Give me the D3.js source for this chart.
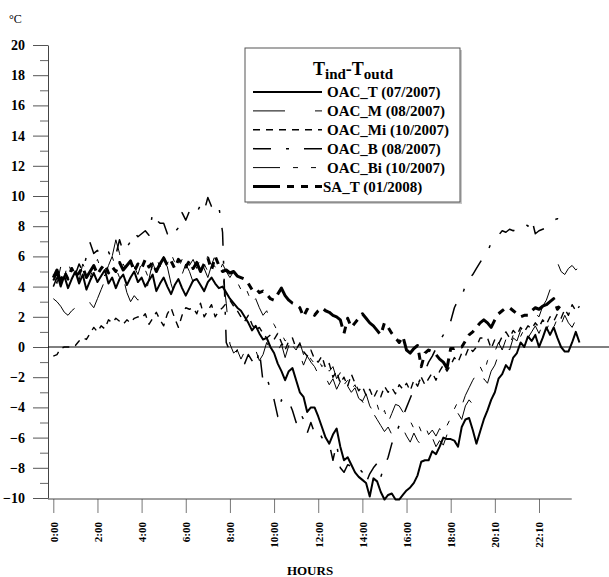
<!DOCTYPE html>
<html>
<head>
<meta charset="utf-8">
<script src="https://cdn.jsdelivr.net/npm/d3@7"></script>
<style>
  body { margin: 0; background: #fff; }
  svg { display: block; }
  text { font-family: "Liberation Serif", "Times New Roman", Times, serif; }
</style>
</head>
<body>
<svg id="chart" width="609" height="577"></svg>
<script>
// Indoor minus outdoor temperature (°C), one reading every 10 minutes over a day.
const tickLabels = ["0:00", "2:00", "4:00", "6:00", "8:00", "10:00", "12:00", "14:00", "16:00", "18:00", "20:10", "22:10"];
const tickSteps = [0, 12, 24, 36, 48, 60, 72, 84, 96, 108, 120, 132];
const yTicks = [-10, -8, -6, -4, -2, 0, 2, 4, 6, 8, 10, 12, 14, 16, 18, 20];

const seriesNames = ["OAC_T (07/2007)", "OAC_M (08/2007)", "OAC_Mi (10/2007)", "OAC_B (08/2007)", "OAC_Bi (10/2007)", "SA_T (01/2008)"];

const oacT = [
  4.4, 4.9, 4.0, 4.7, 3.9, 4.5, 5.0, 4.2, 4.8, 3.8, 4.4, 4.9,
  4.3, 4.7, 5.1, 4.2, 4.6, 3.9, 4.5, 4.8, 4.1, 4.6, 5.0, 4.3,
  4.6, 4.0, 4.4, 4.8, 3.7, 4.2, 4.6, 4.0, 3.5, 4.1, 4.5, 3.9,
  3.4, 3.9, 4.4, 4.5, 4.1, 3.7, 4.3, 4.6, 4.2, 3.9, 4.0, 3.6,
  3.2, 2.9, 2.6, 2.4, 2.0, 1.6, 1.1, 1.4, 0.9, 0.5, 0.6, 0.0,
  -0.4, -1.1, -1.6, -2.2, -1.6, -1.4, -2.2, -3.0, -3.3, -4.3, -4.0, -4.0,
  -4.6, -5.3, -6.0, -6.4, -5.8, -5.4, -6.6, -7.5, -7.3, -7.8, -8.3, -8.6,
  -8.8, -9.0, -9.9, -8.7, -8.9, -9.6, -10.1, -9.8, -9.7, -10.1, -10.1, -9.8,
  -9.5, -9.3, -9.0, -8.5, -7.6, -7.5, -7.5, -6.9, -7.1, -6.6, -6.0, -6.1,
  -6.1, -6.2, -6.6, -5.3, -4.8, -4.7, -5.5, -6.4, -5.6, -4.8, -4.2, -3.5,
  -3.0, -2.1, -1.8, -1.2, -1.5, -0.7, -0.4, 0.3, 0.0, 0.7, 0.4, 0.8,
  0.0, 0.6, 1.3, 0.8, 1.3, 0.6, 0.0, -0.3, -0.3, 0.3, 1.0, 0.3
];

const oacM = [
  3.2, 3.0, 2.7, 2.3, 2.1, 2.4, 2.6, 2.9, 3.3, 3.6, 2.9, 2.6,
  3.2, 3.8, 4.4, 5.2, 6.0, 7.1, 6.2, 4.6, 3.6, 3.0, 3.4, 3.1,
  3.8, 3.3, 4.5, 5.6, 4.9, 6.2, 5.8, 5.3, 4.2, 3.4, 4.0, 4.8,
  5.5, 5.0, 4.3, 5.1, 5.8, 5.2, 4.6, 5.4, 6.1, 5.5, 5.0, 2.9,
  0.2, -0.4, -0.2, -0.8, -0.3, -1.0, -0.6, -0.2, -0.9, -0.5, 0.3, -0.2,
  0.4, -0.3, 0.2, -0.7, 0.1, -0.4, -0.9, -0.5, -1.2, -0.6, -1.0, -1.3,
  -1.8, -1.2, -2.0, -2.5, -2.1, -2.8, -2.3, -1.4, -2.6, -3.0, -2.7, -3.4,
  -3.6, -4.0, -3.5, -4.4, -4.8, -5.2, -5.6, -5.3, -5.8, -5.5, -6.0, -5.4,
  -5.9, -6.3, -5.7, -6.2, -6.5, -5.9, -6.4, -6.0, -6.6, -6.2, -6.5, -5.8,
  -5.3, -5.5, -4.4, -4.8, -3.9, -3.5, -3.8, -2.9, -2.6, -2.1, -2.4, -1.6,
  -1.2, -0.5, -0.8, 0.1, -0.2, 0.6, 0.4, 1.1, 1.5, 1.2, 1.9, 2.2,
  2.0, 2.7, 3.1, 3.8, 4.6, 5.6, 5.0, 4.8, 5.2, 5.4, 5.1, 5.3
];

const oacMi = [
  -0.6, -0.5, -0.1, 0.0, 0.0, 0.0, 0.1, 0.4, 0.6, 0.5, 0.9, 1.3,
  1.0, 1.4, 1.2, 1.8, 1.6, 1.9, 1.7, 1.5, 1.8, 1.6, 1.9, 2.0,
  1.9, 2.2, 1.5, 1.9, 2.3, 1.8, 1.4, 2.2, 2.6, 1.9, 1.3, 2.1,
  2.6, 2.5, 2.6, 2.2, 2.9, 2.0, 2.4, 2.8, 2.0, 2.4, 2.6, 2.9,
  3.1, 2.7, 2.4, 2.0, 1.7, 2.1, 1.5, 1.1, 1.3, 0.9, 0.6, 0.8,
  0.5, 0.9, 0.3, -0.2, 0.4, 0.6, -0.1, 0.2, -0.3, -0.6, -0.2, -0.8,
  -1.0, -0.6, -1.4, -1.1, -2.0, -1.6, -2.4, -2.0, -2.6, -1.8, -2.4, -2.9,
  -2.6, -3.2, -2.8, -3.4, -2.9, -3.3, -2.6, -3.0, -2.7, -3.1, -2.5, -2.8,
  -2.4, -2.9, -2.2, -2.6, -2.0, -2.5, -2.1, -1.7, -2.2, -1.6, -1.2, -1.6,
  -1.2, -0.7, -1.0, -0.4, -0.6, 0.0, -0.3, 0.0, 0.6, 0.6, 0.6, -0.1,
  0.5, 0.2, 0.7, 1.0, 0.6, 1.1, 0.8, 1.3, 1.0, 1.4, 1.2, 1.6,
  1.3, 1.8, 1.5, 2.0, 1.7, 2.2, 1.9, 2.5, 2.1, 2.8, 2.4, 2.7
];

const oacB = [
  4.0, 4.6, 4.3, 5.0, 4.5, 5.2, 4.8, 5.5, 5.0, 6.0, 6.9, 6.2,
  6.4, 6.0, 6.3, 6.3, 5.8, 6.1, 7.1, 6.3, 6.6, 7.0, 7.6, 7.3,
  7.5, 7.7, 7.4, 8.9, 8.4, 8.2, 8.2, 7.5, 7.9, 7.6, 7.9, 8.9,
  8.4, 9.0, 9.2, 8.9, 9.4, 9.0, 9.9, 9.3, 9.0, 9.3, 7.6, 0.3,
  -0.3, -0.6, -0.2, -0.4, -1.1, -0.5, -0.9, -1.3, -0.2, -2.3, -2.0, -2.8,
  -3.5, -4.6, -3.5, -3.8, -3.6, -4.2, -5.0, -4.3, -4.8, -5.7, -5.0, -5.7,
  -5.5, -6.0, -6.2, -6.4, -7.5, -6.4, -8.0, -8.3, -7.8, -7.9, -8.2, -8.0,
  -8.3, -9.0, -8.4, -8.0, -7.7, -8.6, -7.9, -7.3, -6.4, -5.8, -5.2, -4.6,
  -4.0, -3.4, -2.8, -2.5, -2.0, -1.6, -1.0, -0.6, -0.1, 0.4, 0.8, 1.3,
  1.7, 2.6, 3.1, 3.3, 4.1, 4.5, 4.8, 5.2, 5.6, 6.0, 6.3, 6.9,
  7.1, 7.4, 7.7, 7.6, 7.8, 7.7, 7.8, 8.0, 8.2, 8.0, 8.5, 7.5,
  7.7, 7.8, 7.9, 8.1, 8.4, 8.5, 8.4, 8.3, 8.3, 8.3
];

const oacBi = [
  4.8, 4.2, 5.3, 4.6, 5.6, 4.9, 5.2, 4.4, 5.5, 5.0, 4.6, 5.3,
  5.8, 5.1, 4.7, 5.4, 6.0, 5.2, 4.6, 5.5, 5.0, 5.7, 5.3, 4.8,
  5.6, 5.1, 4.5, 5.4, 5.9, 5.3, 6.0, 5.5, 6.2, 5.6, 5.2, 5.8,
  6.1, 5.4, 5.8, 5.2, 5.9, 5.5, 5.0, 5.6, 5.3, 4.9, 5.5, 5.0,
  4.6, 5.0, 4.3, 3.8, 4.1, 3.5, 2.9, 3.2, 2.6, 2.1, 2.4, 1.7,
  1.5, 1.0, 0.9, 0.4, 0.6, 0.1, -0.2, 0.3, -0.5, -0.2, -0.8, -1.1,
  -0.8, -1.3, -1.0, -1.6, -1.3, -2.1, -1.7, -2.5, -2.2, -2.8, -2.5, -3.3,
  -3.6, -3.1, -3.9, -4.3, -3.8, -4.6, -4.2, -5.0, -4.4, -3.8, -3.9, -4.3,
  -4.6, -4.9, -5.4, -5.0, -5.6, -5.2, -5.8, -5.5, -5.9, -5.4, -5.7, -5.2,
  -4.7, -4.1, -3.6, -3.9, -3.2, -2.7, -2.2, -1.8, -1.3, -1.8, -0.9, -0.6,
  -0.3, 0.3, -0.2, 0.5, 0.1, 0.8, 0.4, 0.7, 1.2, 0.6, 1.0, 1.4,
  0.9, 1.5, 1.1, 1.7, 1.3, 1.9, 1.5, 2.1, 1.6, 1.3, 1.8, 1.5
];

const saT = [
  4.6, 5.1, 4.3, 5.0, 4.5, 5.2, 4.7, 4.9, 5.3, 4.6, 5.0, 5.4,
  4.8, 5.2, 5.5, 4.9, 5.3, 5.0, 5.6, 5.1, 5.4, 5.7, 5.0, 5.5,
  5.2, 5.8, 5.3, 5.6, 5.0, 5.5, 5.9, 5.4, 5.7, 5.2, 5.8, 5.5,
  5.3, 5.7, 5.2, 5.6, 5.0, 5.5, 5.9, 5.1, 6.0, 5.4, 5.0, 5.1,
  4.9, 5.0, 4.7, 4.6, 4.5, 4.2, 3.8, 3.9, 3.6, 3.7, 3.5, 3.2,
  3.1, 3.5, 3.9, 3.4, 3.1, 2.9, 2.8, 2.6, 2.0, 2.5, 2.3, 2.1,
  2.4, 2.6, 2.4, 2.3, 2.1, 2.0, 1.8, 0.9, 1.9, 1.3, 1.6, 1.9,
  2.2, 1.9, 1.6, 1.4, 1.1, 0.8, 1.6, 1.3, 0.9, 0.6, 0.3, 0.7,
  -0.2, -0.4, -0.1, 0.1, -1.3, -0.4, -0.2, -0.3, -0.5, -0.8, -1.0, -1.4,
  -0.1, -0.1, 0.0, 0.0, 0.4, 0.8, 1.0, 1.3, 1.6, 1.8, 1.6, 1.3,
  1.8, 2.2, 2.4, 2.6, 2.6, 2.4, 2.2, 2.0, 2.1, 2.1, 2.4, 2.6,
  2.5, 2.7, 2.8, 3.0, 3.2, 2.5, 2.8
];

const seriesValues = [oacT, oacM, oacMi, oacB, oacBi, saT];

// Stroke style for each series: width and dash pattern
const strokeStyles = [
  { width: 2.0, dash: null },
  { width: 1.0, dash: "32,30" },
  { width: 1.4, dash: "7,6" },
  { width: 1.5, dash: "18,15,3,15" },
  { width: 1.0, dash: "27,13,5,13,5,13" },
  { width: 3.0, dash: "27,7,7,7,7,7,7,7" }
];

const svg = d3.select("#chart");

const x = d3.scaleLinear().domain([0, 132]).range([53.3, 539]);
const y = d3.scaleLinear().domain([-10, 20]).range([498, 45]);

const axisLeftX = 48;
const axisBottomY = 499;

// Y axis: labelled major ticks every 2 °C, minor ticks every 1 °C
const yAxis = svg.append("g")
  .attr("transform", `translate(${axisLeftX},0)`)
  .call(d3.axisLeft(y).tickValues(yTicks).tickSize(15).tickSizeOuter(0).tickPadding(8));
yAxis.select(".domain").attr("stroke", "#444");
yAxis.selectAll(".tick line").attr("stroke", "#555");
yAxis.selectAll(".tick text")
  .attr("font-size", 14).attr("font-weight", "bold").attr("fill", "#000")
  .style("font-family", '"Liberation Serif", "Times New Roman", serif');

const yMinor = svg.append("g")
  .attr("transform", `translate(${axisLeftX},0)`)
  .call(d3.axisLeft(y).tickValues(d3.range(-9, 20, 2)).tickSize(8).tickFormat(""));
yMinor.select(".domain").remove();
yMinor.selectAll(".tick line").attr("stroke", "#666");

// X axis: hour ticks with vertical labels
const xAxis = svg.append("g")
  .attr("transform", `translate(0,${axisBottomY})`)
  .call(d3.axisBottom(x).tickValues(tickSteps).tickFormat((d, i) => tickLabels[i]).tickSize(14).tickSizeOuter(0));
xAxis.select(".domain").remove();
xAxis.selectAll(".tick line").attr("stroke", "#777");
xAxis.selectAll(".tick text")
  .attr("transform", "rotate(-90)")
  .attr("x", -23).attr("y", 0).attr("dy", "0.35em")
  .attr("text-anchor", "end")
  .attr("font-size", 11).attr("font-weight", "bold").attr("fill", "#000")
  .style("font-family", '"Liberation Serif", "Times New Roman", serif');

svg.append("line")
  .attr("x1", axisLeftX).attr("x2", x(140.9))
  .attr("y1", axisBottomY).attr("y2", axisBottomY)
  .attr("stroke", "#444");

// Zero reference line across the plot
svg.append("line")
  .attr("x1", axisLeftX).attr("x2", 609)
  .attr("y1", y(0)).attr("y2", y(0))
  .attr("stroke", "#000").attr("stroke-width", 1);

// Series
const line = d3.line().x((d, i) => x(i)).y(d => y(d));
seriesValues.forEach((vals, k) => {
  const s = strokeStyles[k];
  svg.append("path")
    .datum(vals)
    .attr("d", line)
    .attr("fill", "none")
    .attr("stroke", "#000")
    .attr("stroke-width", s.width)
    .attr("stroke-dasharray", s.dash)
    .attr("stroke-linejoin", "round");
});

// Axis titles
svg.append("text").attr("x", 9).attr("y", 23)
  .attr("font-size", 12).text("°C");
svg.append("text").attr("x", 310).attr("y", 575)
  .attr("text-anchor", "middle").attr("font-size", 13).attr("font-weight", "bold")
  .text("HOURS");

// Legend
const legend = svg.append("g");
legend.append("rect").attr("x", 247).attr("y", 50).attr("width", 215).attr("height", 154)
  .attr("fill", "#c8c8c8");
legend.append("rect").attr("x", 245).attr("y", 48).attr("width", 215).attr("height", 154)
  .attr("fill", "#fff").attr("stroke", "#555").attr("stroke-width", 1);

const title = legend.append("text").attr("x", 353).attr("y", 75)
  .attr("text-anchor", "middle").attr("font-weight", "bold");
title.append("tspan").attr("font-size", 18).text("T");
title.append("tspan").attr("font-size", 15).attr("dy", 4).text("ind");
title.append("tspan").attr("font-size", 18).attr("dy", -4).text("-T");
title.append("tspan").attr("font-size", 15).attr("dy", 4).text("outd");

seriesNames.forEach((name, k) => {
  const ly = 92 + k * 18.9;
  const s = strokeStyles[k];
  legend.append("line")
    .attr("x1", 253).attr("x2", 322).attr("y1", ly).attr("y2", ly)
    .attr("stroke", "#000").attr("stroke-width", s.width)
    .attr("stroke-dasharray", s.dash);
  legend.append("text")
    .attr("x", k === 5 ? 323 : 327).attr("y", ly + 5)
    .attr("font-size", 15).attr("font-weight", "bold")
    .text(name);
});
</script>
</body>
</html>
